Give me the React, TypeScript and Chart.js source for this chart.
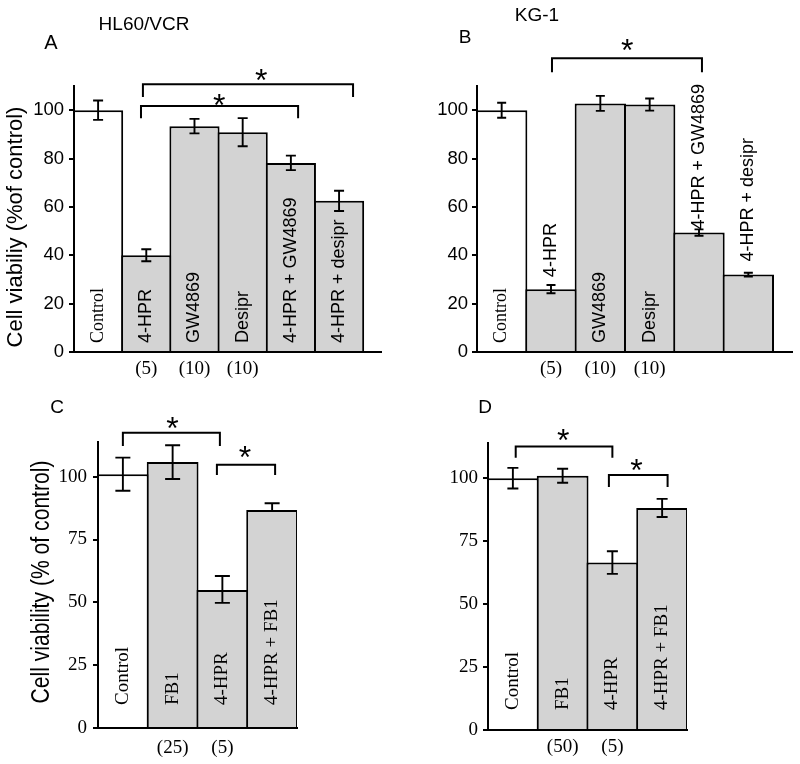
import React, { useEffect, useRef } from "react";
import { Chart, registerables } from "chart.js";

Chart.register(...registerables);

const SANS = "'Liberation Sans', Arial, sans-serif";
const SERIF = "'Liberation Serif', 'Times New Roman', serif";

// ---------- Panel A : HL60/VCR ----------
const categoriesA = ["Control", "4-HPR", "GW4869", "Desipr", "4-HPR + GW4869", "4-HPR + desipr"];
const valuesA = [100, 40, 93.4, 90.9, 78.2, 62.5];
const errorsA = [4, 2.5, 3, 5.8, 3, 4.2];
const dosesA = ["", "(5)", "(10)", "(10)", "", ""];
const yTicksA = [0, 20, 40, 60, 80, 100];

// ---------- Panel B : KG-1 ----------
const categoriesB = ["Control", "4-HPR", "GW4869", "Desipr", "4-HPR + GW4869", "4-HPR + desipr"];
const valuesB = [100, 26, 102.8, 102.3, 49.4, 32];
const errorsB = [3.1, 1.7, 3.1, 2.5, 1.3, 0.8];
const dosesB = ["", "(5)", "(10)", "(10)", "", ""];
const yTicksB = [0, 20, 40, 60, 80, 100];

// ---------- Panel C ----------
const categoriesC = ["Control", "FB1", "4-HPR", "4-HPR + FB1"];
const valuesC = [101, 105.8, 54.9, 86.7];
const errorsUpC = [6.6, 6.7, 5.6, 2.7];
const errorsDownC = [6.6, 6.7, 5.1, 0];
const dosesC = ["", "(25)", "(5)", ""];
const yTicksC = [0, 25, 50, 75, 100];

// ---------- Panel D ----------
const categoriesD = ["Control", "FB1", "4-HPR", "4-HPR + FB1"];
const valuesD = [100, 101, 66.5, 88.2];
const errorsD = [4.1, 2.8, 4.5, 3.6];
const dosesD = ["", "(50)", "(5)", ""];
const yTicksD = [0, 25, 50, 75, 100];

// significance brackets, in data units (x: bar index space, y: % of control)
const bracketsA = [
  { from: 1.39, to: 4.65, top: 101.7, bottom: 96.7, starX: 3.01, starY: 104.1 },
  { from: 1.43, to: 5.79, top: 110.7, bottom: 105.4, starX: 3.88, starY: 114.5 },
];
const bracketsB = [{ from: 1.52, to: 4.56, top: 121.5, bottom: 115.7, starX: 3.04, starY: 126.9 }];
const bracketsC = [
  { from: 0.5, to: 2.45, top: 117.5, bottom: 112.2, starX: 1.49, starY: 121.4 },
  { from: 2.39, to: 3.56, top: 104.7, bottom: 100.7, starX: 2.95, starY: 109.8 },
];
const bracketsD = [
  { from: 0.557, to: 2.5, top: 112.6, bottom: 108.1, starX: 1.51, starY: 117.2 },
  { from: 2.43, to: 3.61, top: 101.3, bottom: 96.5, starX: 2.98, starY: 105.3 },
];

const WHITE = "#ffffff";
const GRAY = "#d3d3d3";

type Bracket = { from: number; to: number; top: number; bottom: number; starX: number; starY: number };
type Spec = {
  left: number; top: number;
  cats: string[]; vals: number[]; errUp: number[]; errDown: number[]; doses: string[];
  yTicks: number[]; yMax: number; xMax: number;
  padTop: number; padRight: number; padBottom: number; axisW: number; tickPad: number;
  tickFont: string; tickSize: number;
  labelFamilies: string[]; labelSize: number; labelInsideGap: number; labelAbove: (number | null)[];
  doseGap: number; doseSize: number;
  capW: number;
  brackets: Bracket[];
  texts: { t: string; x: number; y: number; font: string }[];
  yTitle?: { t: string; x: number; y: number; font: string; sx: number };
};

const specs: Spec[] = [
  {
    left: 0, top: 0,
    cats: categoriesA, vals: valuesA, errUp: errorsA, errDown: errorsA, doses: dosesA,
    yTicks: yTicksA, yMax: 110, xMax: 6.37,
    padTop: 86, padRight: 19, padBottom: 30, axisW: 74, tickPad: 5,
    tickFont: SANS, tickSize: 18.5,
    labelFamilies: [SERIF, SANS, SANS, SANS, SANS, SANS], labelSize: 18, labelInsideGap: 9,
    labelAbove: [null, null, null, null, null, null],
    doseGap: 17, doseSize: 19, capW: 10,
    brackets: bracketsA,
    texts: [
      { t: "HL60/VCR", x: 144, y: 25, font: `19px ${SANS}` },
      { t: "A", x: 51, y: 43, font: `20px ${SANS}` },
    ],
    yTitle: { t: "Cell viabiliy (%of control)", x: 16, y: 227, font: `22px ${SANS}`, sx: 1 },
  },
  {
    left: 400, top: 0,
    cats: categoriesB, vals: valuesB, errUp: errorsB, errDown: errorsB, doses: dosesB,
    yTicks: yTicksB, yMax: 110, xMax: 6.385,
    padTop: 86, padRight: 8, padBottom: 30, axisW: 77, tickPad: 4,
    tickFont: SANS, tickSize: 18.5,
    labelFamilies: [SERIF, SANS, SANS, SANS, SANS, SANS], labelSize: 18, labelInsideGap: 9,
    labelAbove: [null, 12, null, null, 3, 13],
    doseGap: 17, doseSize: 19, capW: 9,
    brackets: bracketsB,
    texts: [
      { t: "KG-1", x: 137, y: 16, font: `19px ${SANS}` },
      { t: "B", x: 65, y: 37.5, font: `19px ${SANS}` },
    ],
  },
  {
    left: 0, top: 382,
    cats: categoriesC, vals: valuesC, errUp: errorsUpC, errDown: errorsDownC, doses: dosesC,
    yTicks: yTicksC, yMax: 114, xMax: 4,
    padTop: 59.5, padRight: 103, padBottom: 36, axisW: 98, tickPad: 6,
    tickFont: SERIF, tickSize: 19,
    labelFamilies: [SERIF, SERIF, SERIF, SERIF], labelSize: 19, labelInsideGap: 23,
    labelAbove: [null, null, null, null],
    doseGap: 20, doseSize: 19, capW: 15,
    brackets: bracketsC,
    texts: [{ t: "C", x: 57, y: 26, font: `19px ${SANS}` }],
    yTitle: { t: "Cell viability (% of control)", x: 42.5, y: 200, font: `25px ${SANS}`, sx: 0.845 },
  },
  {
    left: 400, top: 382,
    cats: categoriesD, vals: valuesD, errUp: errorsD, errDown: errorsD, doses: dosesD,
    yTicks: yTicksD, yMax: 114, xMax: 4,
    padTop: 61, padRight: 113, padBottom: 34, axisW: 88, tickPad: 5,
    tickFont: SERIF, tickSize: 19,
    labelFamilies: [SERIF, SERIF, SERIF, SERIF], labelSize: 19, labelInsideGap: 20,
    labelAbove: [null, null, null, null],
    doseGap: 17, doseSize: 19, capW: 11,
    brackets: bracketsD,
    texts: [{ t: "D", x: 85, y: 26, font: `19px ${SANS}` }],
  },
];

function drawCentered(ctx: CanvasRenderingContext2D, text: string, cx: number, cy: number, font: string) {
  ctx.font = font;
  ctx.textAlign = "left";
  ctx.textBaseline = "alphabetic";
  const m = ctx.measureText(text);
  const w = m.actualBoundingBoxLeft + m.actualBoundingBoxRight;
  const x = cx - w / 2 + m.actualBoundingBoxLeft;
  const y = cy + (m.actualBoundingBoxAscent - m.actualBoundingBoxDescent) / 2;
  ctx.fillText(text, x, y);
}

function buildConfig(s: Spec): any {
  const n = s.cats.length;
  const decor = {
    id: "decor",
    afterDraw(chart: any) {
      const ctx: CanvasRenderingContext2D = chart.ctx;
      const xs = chart.scales.x;
      const ys = chart.scales.y;
      const px = (v: number) => xs.getPixelForValue(v);
      const py = (v: number) => ys.getPixelForValue(v);
      ctx.save();
      ctx.fillStyle = "#000";
      ctx.strokeStyle = "#000";

      // error bars
      ctx.lineWidth = 1.9;
      s.vals.forEach((v, i) => {
        const x = px(i + 0.5);
        const yt = py(v + s.errUp[i]);
        const yb = py(v - s.errDown[i]);
        const hw = s.capW / 2;
        ctx.beginPath();
        ctx.moveTo(x, yt);
        ctx.lineTo(x, yb);
        ctx.moveTo(x - hw, yt);
        ctx.lineTo(x + hw, yt);
        if (s.errDown[i] > 0) {
          ctx.moveTo(x - hw, yb);
          ctx.lineTo(x + hw, yb);
        }
        ctx.stroke();
      });

      // significance brackets + stars
      ctx.lineWidth = 2;
      s.brackets.forEach((b) => {
        ctx.beginPath();
        ctx.moveTo(px(b.from), py(b.bottom));
        ctx.lineTo(px(b.from), py(b.top));
        ctx.lineTo(px(b.to), py(b.top));
        ctx.lineTo(px(b.to), py(b.bottom));
        ctx.stroke();
        drawCentered(ctx, "*", px(b.starX), py(b.starY), `32px ${SANS}`);
      });

      // rotated bar labels
      s.cats.forEach((c, i) => {
        const x = px(i + 0.5);
        const above = s.labelAbove[i];
        const y0 = above == null ? py(0) - s.labelInsideGap : py(s.vals[i]) - above;
        ctx.save();
        ctx.translate(x, y0);
        ctx.rotate(-Math.PI / 2);
        ctx.font = `${s.labelSize}px ${s.labelFamilies[i]}`;
        ctx.textAlign = "left";
        ctx.textBaseline = "middle";
        ctx.fillText(c, 0, 0);
        ctx.restore();
      });

      // doses under bars
      ctx.font = `${s.doseSize}px ${SERIF}`;
      ctx.textAlign = "center";
      ctx.textBaseline = "middle";
      s.doses.forEach((d, i) => {
        if (d) ctx.fillText(d, px(i + 0.5), py(0) + s.doseGap);
      });

      // panel texts
      s.texts.forEach((t) => {
        ctx.font = t.font;
        ctx.textAlign = "center";
        ctx.textBaseline = "middle";
        ctx.fillText(t.t, t.x, t.y);
      });

      // y axis title
      if (s.yTitle) {
        const yt = s.yTitle;
        ctx.save();
        ctx.translate(yt.x, yt.y);
        ctx.rotate(-Math.PI / 2);
        ctx.scale(yt.sx, 1);
        ctx.font = yt.font;
        ctx.textAlign = "center";
        ctx.textBaseline = "middle";
        ctx.fillText(yt.t, 0, 0);
        ctx.restore();
      }
      ctx.restore();
    },
  };

  return {
    type: "bar",
    data: {
      datasets: [
        {
          data: s.vals.map((v, i) => ({ x: i + 0.5, y: v })),
          backgroundColor: s.cats.map((_, i) => (i === 0 ? WHITE : GRAY)),
          borderColor: "#000",
          borderSkipped: "start",
          inflateAmount: 0,
          borderWidth: 2,
          // slight overlap so that shared edges of neighbouring bars merge into one 2px line
          barPercentage: 1.041,
          categoryPercentage: 1,
        },
      ],
    },
    options: {
      animation: false,
      responsive: false,
      devicePixelRatio: 1,
      events: [],
      layout: { padding: { left: 0, top: s.padTop, right: s.padRight, bottom: s.padBottom } },
      plugins: { legend: { display: false }, tooltip: { enabled: false }, title: { display: false } },
      scales: {
        x: {
          type: "linear",
          offset: false,
          min: 0,
          max: s.xMax,
          afterBuildTicks: (axis: any) => {
            axis.ticks = Array.from({ length: n + 1 }, (_, i) => ({ value: i }));
          },
          afterFit: (scale: any) => {
            scale.height = 0;
            scale.paddingLeft = 0;
            scale.paddingRight = 0;
          },
          ticks: { display: false },
          grid: { display: true, offset: false, drawOnChartArea: false, drawTicks: false, lineWidth: 2, color: "#000" },
          border: { display: true, width: 2, color: "#000", z: 1 },
        },
        y: {
          type: "linear",
          min: 0,
          max: s.yMax,
          afterBuildTicks: (axis: any) => {
            axis.ticks = s.yTicks.map((v) => ({ value: v }));
          },
          afterFit: (scale: any) => {
            scale.width = s.axisW;
            scale.paddingTop = 0;
            scale.paddingBottom = 0;
          },
          ticks: {
            color: "#000",
            padding: s.tickPad,
            font: { family: s.tickFont, size: s.tickSize },
            callback: (v: any) => String(v),
          },
          grid: {
            display: true,
            drawOnChartArea: false,
            drawTicks: true,
            tickLength: 5,
            tickWidth: 2,
            tickColor: "#000",
            lineWidth: 2,
            color: "#000",
          },
          border: { display: true, width: 2, color: "#000", z: 1 },
        },
      },
    },
    plugins: [decor],
  };
}

function Panel({ spec }: { spec: Spec }) {
  const ref = useRef<HTMLCanvasElement>(null);
  useEffect(() => {
    if (!ref.current) return;
    const chart = new Chart(ref.current, buildConfig(spec));
    return () => chart.destroy();
  }, [spec]);
  return (
    <canvas
      ref={ref}
      width={400}
      height={382}
      style={{ position: "absolute", left: spec.left, top: spec.top, width: 400, height: 382 }}
    />
  );
}

export default function App() {
  return (
    <div style={{ position: "absolute", left: 0, top: 0, width: 800, height: 764, background: "#fff" }}>
      {specs.map((s, i) => (
        <Panel key={i} spec={s} />
      ))}
    </div>
  );
}
